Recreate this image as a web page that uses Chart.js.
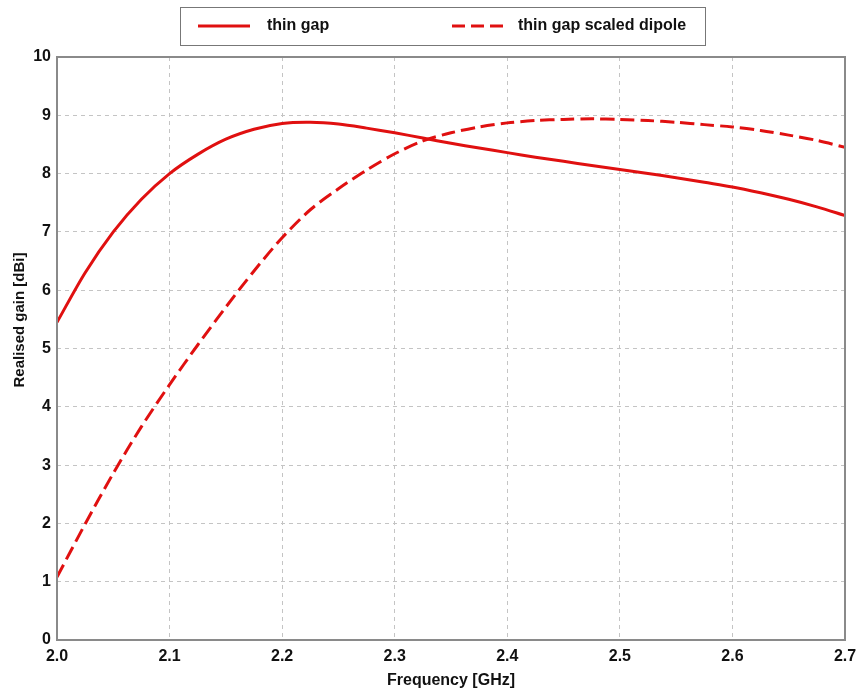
<!DOCTYPE html>
<html>
<head>
<meta charset="utf-8">
<script src="https://cdn.jsdelivr.net/npm/chart.js@4/dist/chart.umd.min.js"></script>
<style>
html,body{margin:0;padding:0;background:#fff;}
#wrap{width:856px;height:692px;position:relative;}
</style>
</head>
<body>
<div id="wrap"><canvas id="c" width="856" height="692"></canvas></div>
<script>
const frequencies = [2.000, 2.025, 2.050, 2.075, 2.100, 2.125, 2.150, 2.175, 2.200, 2.225,
                     2.250, 2.275, 2.300, 2.325, 2.350, 2.375, 2.400, 2.425, 2.450, 2.475,
                     2.500, 2.525, 2.550, 2.575, 2.600, 2.625, 2.650, 2.675, 2.700];
const thinGap = [5.45, 6.30, 7.00, 7.56, 8.00, 8.33, 8.59, 8.76, 8.86, 8.88,
                 8.85, 8.78, 8.70, 8.61, 8.52, 8.44, 8.36, 8.28, 8.21, 8.14,
                 8.07, 8.00, 7.93, 7.85, 7.77, 7.67, 7.56, 7.43, 7.28];
const thinGapScaledDipole = [1.08, 1.99, 2.86, 3.66, 4.38, 5.06, 5.71, 6.33, 6.90, 7.38,
                             7.74, 8.06, 8.34, 8.56, 8.70, 8.80, 8.87, 8.91, 8.93, 8.94,
                             8.93, 8.91, 8.88, 8.84, 8.80, 8.74, 8.66, 8.57, 8.45];
const seriesNames = ['thin gap', 'thin gap scaled dipole'];
const xTitle = 'Frequency [GHz]';
const yTitle = 'Realised gain [dBi]';

const RED = '#e01010';
const FONT = '"Liberation Sans", Arial, sans-serif';
const DASH = [14, 6];

const toXY = (ys) => frequencies.map((x, i) => ({x, y: ys[i]}));

const framePlugin = {
  id: 'frame',
  afterDatasetsDraw(chart) {
    const {ctx, chartArea: a} = chart;
    ctx.save();
    ctx.strokeStyle = '#8a8a8a';
    ctx.lineWidth = 2;
    ctx.strokeRect(a.left, a.top, a.right - a.left, a.bottom - a.top);
    ctx.restore();
  }
};

const legendPlugin = {
  id: 'boxLegend',
  afterDraw(chart) {
    const ctx = chart.ctx;
    ctx.save();
    ctx.fillStyle = '#fff';
    ctx.strokeStyle = '#777';
    ctx.lineWidth = 1;
    ctx.fillRect(180.5, 7.5, 525, 38);
    ctx.strokeRect(180.5, 7.5, 525, 38);
    ctx.strokeStyle = RED;
    ctx.lineWidth = 3;
    ctx.beginPath(); ctx.moveTo(198, 26); ctx.lineTo(250, 26); ctx.stroke();
    ctx.setLineDash([13, 6]);
    ctx.beginPath(); ctx.moveTo(452, 26); ctx.lineTo(503, 26); ctx.stroke();
    ctx.setLineDash([]);
    ctx.fillStyle = '#111';
    ctx.font = 'bold 16px ' + FONT;
    ctx.textBaseline = 'middle';
    ctx.textAlign = 'left';
    ctx.fillText(seriesNames[0], 267, 26);
    ctx.fillText(seriesNames[1], 518, 26);
    // y axis title
    ctx.translate(20, 320);
    ctx.rotate(-Math.PI / 2);
    ctx.textAlign = 'center';
    ctx.font = 'bold 15px ' + FONT;
    ctx.fillText(yTitle, 0, 0);
    ctx.restore();
  }
};

new Chart(document.getElementById('c'), {
  type: 'line',
  data: {
    datasets: [
      { label: seriesNames[0], data: toXY(thinGap), borderColor: RED, borderWidth: 3,
        pointRadius: 0, tension: 0.3, fill: false },
      { label: seriesNames[1], data: toXY(thinGapScaledDipole), borderColor: RED, borderWidth: 3,
        borderDash: DASH, pointRadius: 0, tension: 0.3, fill: false }
    ]
  },
  options: {
    responsive: false,
    animation: false,
    devicePixelRatio: 1,
    layout: { padding: { top: 57, left: 0, right: 11, bottom: 0 } },
    plugins: { legend: { display: false }, tooltip: { enabled: false } },
    scales: {
      x: {
        type: 'linear', min: 2.0, max: 2.7,
        afterFit(s) { s.height = 52; s.paddingRight = 0; s.paddingLeft = 0; },
        border: { display: false, dash: [4, 4] },
        grid: { color: '#c4c4c4', lineWidth: 1, drawTicks: false },
        ticks: { stepSize: 0.1, padding: 7, color: '#111', maxRotation: 0,
          font: { family: FONT, size: 16, weight: 'bold' },
          callback: (v) => Number(v).toFixed(1) },
        title: { display: true, text: xTitle, color: '#111',
          font: { family: FONT, size: 16, weight: 'bold' }, padding: { top: 0, bottom: 2 } }
      },
      y: {
        min: 0, max: 10,
        afterFit(s) { s.width = 57; },
        border: { display: false, dash: [4, 4] },
        grid: { color: '#c4c4c4', lineWidth: 1, drawTicks: false },
        ticks: { stepSize: 1, padding: 6, color: '#111',
          font: { family: FONT, size: 16, weight: 'bold' } },
        title: { display: false }
      }
    }
  },
  plugins: [framePlugin, legendPlugin]
});
</script>
</body>
</html>
